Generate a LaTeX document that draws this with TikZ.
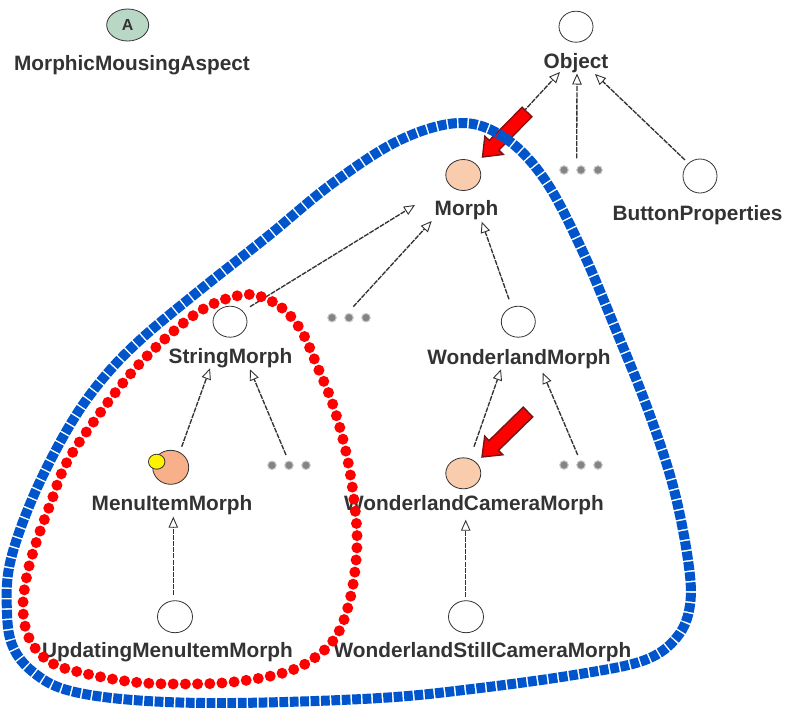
\documentclass[tikz,border=0pt]{standalone}
\usepackage{fontspec}
\setmainfont{Liberation Sans}
\usetikzlibrary{arrows.meta,calc,shapes.geometric}

\definecolor{ink}{HTML}{333333}
\definecolor{peach}{HTML}{F9CCAE}
\definecolor{peachdeep}{HTML}{F7B08A}
\definecolor{sage}{HTML}{B8D8C5}
\definecolor{loopblue}{HTML}{0055CC}
\definecolor{loopred}{HTML}{FF0000}
\definecolor{arrowred}{HTML}{FF0000}
\definecolor{arrowrim}{HTML}{7A1414}
\definecolor{dotgray}{HTML}{6E6E6E}

% block arrow: #1 = tail, #2 = tip
\newcommand\blockarrow[2]{%
  \path ($(#2)!16.5pt!(#1)$) coordinate (ba-base);
  \filldraw[bigarrow] (#2)
    -- ($(ba-base)!13pt!90:(#2)$)
    -- ($(ba-base)!6.8pt!90:(#2)$)
    -- ($(#1)!6.8pt!90:(#2)$)
    -- ($(#1)!6.8pt!-90:(#2)$)
    -- ($(ba-base)!6.8pt!-90:(#2)$)
    -- ($(ba-base)!13pt!-90:(#2)$)
    -- cycle;}

% three grey dots standing for further subclasses
\newcommand\moredots[2]{%
  \coordinate (#1) at (#2);
  \foreach \dx in {-17,0,17}
    \fill[dotgray!85, draw=dotgray!35, line width=1pt] ($(#1)+(\dx,0)$) circle (4.3pt);}

\begin{document}
\begin{tikzpicture}[x=1pt, y=-1pt,
  cls/.style={ellipse, draw=ink, line width=0.8pt, minimum width=34pt, minimum height=31pt, inner sep=0pt},
  lbl/.style={anchor=base, inner sep=0pt, text=ink, font=\fontsize{20.8}{21}\selectfont\bfseries},
  inh/.style={draw=ink, line width=1.35pt, dash pattern=on 5pt off 1.1pt,
              -{Triangle[open, length=11pt, width=9.5pt, line width=0.9pt]}},
  bigarrow/.style={fill=arrowred, draw=arrowrim, line width=1.4pt, line join=miter},
  blueloop/.style={draw=loopblue, line width=10pt, dash pattern=on 8.8pt off 1.6pt},
  redloop/.style={draw=loopred, line width=11pt, line cap=round, dash pattern=on 0pt off 12.2pt}]

\useasboundingbox (0,0) rectangle (786,707);

% ---- class symbols ----
\node[cls, fill=sage, minimum width=42pt, minimum height=32pt,
      font=\fontsize{16}{16}\selectfont\bfseries, text=ink] (asp) at (127.7,25) {A};
\node[lbl] (asp-l) at (132,70) {MorphicMousingAspect};

\node[cls] (obj) at (576,26.7) {};
\node[lbl] (obj-l) at (576,68) {Object};

\node[cls, fill=peach, minimum width=35pt] (mor) at (463.3,175) {};
\node[lbl] (mor-l) at (466.5,215) {Morph};

\node[cls, minimum width=34pt, minimum height=34pt] (btn) at (700,176) {};
\node[lbl] (btn-l) at (697.5,220) {ButtonProperties};

\node[cls] (str) at (230,321.7) {};
\node[lbl] (str-l) at (230.5,363) {StringMorph};

\node[cls] (wm) at (518.3,321.7) {};
\node[lbl] (wm-l) at (519,364) {WonderlandMorph};

\node[cls, fill=peachdeep, minimum width=36pt, minimum height=34pt] (mi) at (170.7,467.3) {};
\node[ellipse, draw=ink, line width=0.8pt, fill=yellow, minimum width=16.5pt,
      minimum height=15pt, inner sep=0pt] (mi-badge) at (156.7,461.7) {};
\node[lbl] (mi-l) at (172,510) {MenuItemMorph};

\node[cls, fill=peach, minimum width=35pt] (wc) at (463.3,473.3) {};
\node[lbl] (wc-l) at (474,510) {WonderlandCameraMorph};

\node[cls, minimum width=35pt, minimum height=32pt] (um) at (175,616.7) {};
\node[lbl] (um-l) at (167.5,657) {UpdatingMenuItemMorph};

\node[cls, minimum width=35pt, minimum height=32pt] (ws) at (466,616.7) {};
\node[lbl] (ws-l) at (482.5,657) {WonderlandStillCameraMorph};

% ---- elided subclasses ----
\moredots{dA}{581,170}
\moredots{dB}{349,317.7}
\moredots{dC}{289,465.3}
\moredots{dD}{581,465}

% ---- connector ends ----
\coordinate (obj-in1) at (560,72);
\coordinate (obj-in2) at (577,73.5);
\coordinate (obj-in3) at (595,74);
\coordinate (mor-up)  at (523.3,111.7);
\coordinate (dA-up)   at (576.7,158.3);
\coordinate (btn-up)  at (685,160);

\coordinate (mor-in1) at (415,205);
\coordinate (mor-in2) at (431.7,221);
\coordinate (mor-in3) at (481.7,221.7);
\coordinate (str-up)  at (250,306.7);
\coordinate (dB-up)   at (353.3,306.7);
\coordinate (wm-up)   at (509,299.3);

\coordinate (str-in1) at (210,368.3);
\coordinate (str-in2) at (250,369.3);
\coordinate (mi-up)   at (181.7,446.7);
\coordinate (dC-up)   at (286,455);

\coordinate (wm-in1)  at (501,369.3);
\coordinate (wm-in2)  at (542.7,372.7);
\coordinate (wc-up)   at (474,446.7);
\coordinate (dD-up)   at (577.7,455);

\coordinate (mi-in)   at (173.3,516.7);
\coordinate (um-up)   at (173.3,595);
\coordinate (wc-in)   at (465.7,519.7);
\coordinate (ws-up)   at (465.7,597);

% ---- inheritance links ----
\draw[inh] (mor-up) -- (obj-in1);
\draw[inh] (dA-up)  -- (obj-in2);
\draw[inh] (btn-up) -- (obj-in3);

\draw[inh] (str-up) -- (mor-in1);
\draw[inh] (dB-up)  -- (mor-in2);
\draw[inh] (wm-up)  -- (mor-in3);

\draw[inh] (mi-up)  -- (str-in1);
\draw[inh] (dC-up)  -- (str-in2);

\draw[inh] (wc-up)  -- (wm-in1);
\draw[inh] (dD-up)  -- (wm-in2);

\draw[inh] (um-up)  -- (mi-in);
\draw[inh] (ws-up)  -- (wc-in);

% ---- red pointer arrows ----
\coordinate (pa-tail) at (527,112);
\coordinate (pa-tip)  at (482.5,157);
\coordinate (pb-tail) at (528,412);
\coordinate (pb-tip)  at (482,457);
\blockarrow{pa-tail}{pa-tip}
\blockarrow{pb-tail}{pb-tip}

% ---- grouping loops ----
\draw[redloop] plot[smooth cycle, tension=0.6] coordinates {
  (255,295) (282,308) (302,332) (318,368) (333,405) (346,452) (354,500)
  (357,545) (351,595) (337,635) (313,659) (283,673) (233,682) (183,684)
  (133,682) (83,673) (50,662) (30,640) (23,610) (27,575) (37,540)
  (50,505) (67,462) (100,413) (133,371) (167,337) (200,311) (229,298)};

\draw[blueloop] plot[smooth cycle, tension=0.6] coordinates {
  (460,123) (505,138) (545,180) (582,250) (618,335) (648,410) (673,486)
  (688,560) (690,605) (677,637) (645,660) (580,674) (480,688) (380,698)
  (233,703) (133,700) (67,690) (33,672) (13,647) (7,613) (10,563)
  (33,497) (67,430) (100,382) (140,340) (200,290) (267,237) (333,183)
  (400,140)};

\end{tikzpicture}
\end{document}
